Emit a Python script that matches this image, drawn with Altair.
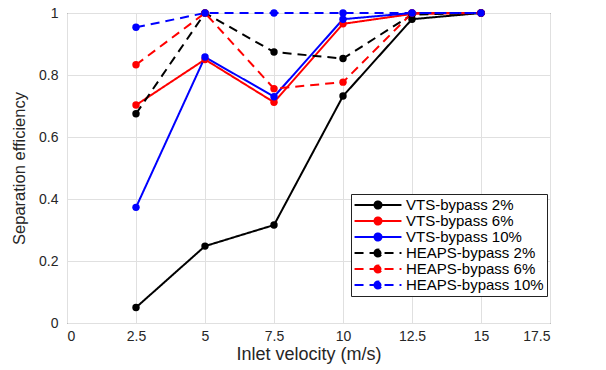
import altair as alt
import pandas as pd

velocity = [2.5, 5, 7.5, 10, 12.5, 15]
series_names = ["VTS-bypass 2%", "VTS-bypass 6%", "VTS-bypass 10%",
                "HEAPS-bypass 2%", "HEAPS-bypass 6%", "HEAPS-bypass 10%"]
vts_2 = [0.05, 0.248, 0.316, 0.732, 0.98, 1.0]
vts_6 = [0.703, 0.85, 0.712, 0.965, 0.997, 1.0]
vts_10 = [0.373, 0.858, 0.73, 0.98, 1.0, 1.0]
heaps_2 = [0.675, 1.0, 0.874, 0.853, 0.995, 1.0]
heaps_6 = [0.833, 1.0, 0.756, 0.777, 1.0, 1.0]
heaps_10 = [0.954, 1.0, 1.0, 1.0, 1.0, 1.0]
colors = ["#000000", "#ff0000", "#0000ff", "#000000", "#ff0000", "#0000ff"]
dashes = [[1, 0], [1, 0], [1, 0], [9, 6], [9, 6], [9, 6]]
x_ticks = [0, 2.5, 5, 7.5, 10, 12.5, 15, 17.5]
y_ticks = [0, 0.2, 0.4, 0.6, 0.8, 1.0]

rows = []
for name, vals in zip(series_names, [vts_2, vts_6, vts_10, heaps_2, heaps_6, heaps_10]):
    for v, e in zip(velocity, vals):
        rows.append({"series": name, "velocity": v, "eff": e})
df = pd.DataFrame(rows)

FONT = "Liberation Sans"

x = alt.X("velocity:Q", title="Inlet velocity (m/s)",
          scale=alt.Scale(domain=[0, 17.5], nice=False),
          axis=alt.Axis(values=x_ticks, labelExpr="datum.value + ''", tickSize=0,
                        labelPadding=6, titlePadding=2, titleFontSize=18))
y = alt.Y("eff:Q", title="Separation efficiency",
          scale=alt.Scale(domain=[0, 1], nice=False),
          axis=alt.Axis(values=y_ticks, labelExpr="datum.value + ''", tickSize=0,
                        labelPadding=9, titlePadding=11, titleFontSize=16.5))
color_scale = alt.Scale(domain=series_names, range=colors)
dash_scale = alt.Scale(domain=series_names, range=dashes)

legend_symbol = ("M-3.45,0H3.45"
                 "M-0.52,0A0.52,0.52 0 1,0 0.52,0A0.52,0.52 0 1,0 -0.52,0Z")

legend = alt.Legend(title=None, orient="none", legendX=284, legendY=181,
                    symbolType=legend_symbol, symbolSize=185,
                    symbolStrokeWidth=2, symbolOffset=16,
                    labelFontSize=15, labelFont=FONT, labelColor="#000000",
                    fillColor="white", strokeColor="#222222",
                    padding=3, rowPadding=-2.5, labelOffset=20,
                    labelLimit=300)

lines = alt.Chart(df).mark_line(strokeWidth=2).encode(
    x=x, y=y,
    color=alt.Color("series:N", sort=series_names, scale=color_scale, legend=legend),
    strokeDash=alt.StrokeDash("series:N", sort=series_names, scale=dash_scale, legend=legend),
    detail="series:N",
    order=alt.Order("velocity:Q"))

points = alt.Chart(df).mark_point(size=55, opacity=1, filled=False, strokeWidth=0).encode(
    x=x, y=y,
    color=alt.Color("series:N", sort=series_names, scale=color_scale, legend=legend),
    fill=alt.Fill("series:N", sort=series_names, scale=color_scale, legend=legend),
    strokeDash=alt.StrokeDash("series:N", sort=series_names, scale=dash_scale, legend=legend),
    shape=alt.value("circle"))

chart = alt.layer(lines, points).properties(
    width=483, height=310,
    autosize=alt.AutoSizeParams(type="none"),
    padding={"left": 67, "top": 13, "right": 56, "bottom": 47},
    background="white",
).configure_view(stroke="#262626", strokeWidth=1).configure_axis(
    labelFont=FONT, titleFont=FONT, labelFontSize=14,
    labelColor="#262626", titleColor="#262626", titleFontWeight="normal",
    gridColor="#e0e0e0", domain=False,
)

chart.save("out.html", embed_options={"renderer": "svg", "actions": False})
